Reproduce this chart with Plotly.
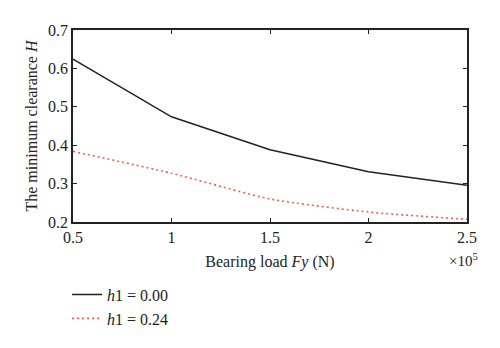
import plotly.graph_objects as go

load = [0.5, 1.0, 1.5, 2.0, 2.5]
h_000 = [0.624, 0.474, 0.388, 0.331, 0.296]
h_024 = [0.384, 0.327, 0.260, 0.226, 0.207]
names = ["<i>h</i>1 = 0.00", "<i>h</i>1 = 0.24"]

font = "Liberation Serif"
fig = go.Figure()
fig.add_trace(go.Scatter(x=load, y=h_000, mode="lines", name=names[0],
                         line=dict(color="#222222", width=1.5)))
fig.add_trace(go.Scatter(x=load, y=h_024, mode="lines", name=names[1],
                         line=dict(color="#ff5a40", width=1.6, dash="2px,3px", shape="spline", smoothing=0.6)))

axis_common = dict(showline=True, linecolor="#222", linewidth=1.5, mirror="ticks",
                   ticks="inside", ticklen=4, tickcolor="#222", showgrid=False, zeroline=False,
                   tickfont=dict(family=font, size=16, color="#222"))
fig.update_layout(
    width=500, height=348,
    margin=dict(l=73, r=33, t=30, b=120),
    plot_bgcolor="white", paper_bgcolor="white",
    font=dict(family=font, color="#222"),
    xaxis=dict(range=[0.5, 2.5], tickvals=[0.5, 1, 1.5, 2, 2.5], ticktext=["0.5", "1", "1.5", "2", "2.5"],
               title=dict(text="Bearing load <i>Fy</i> (N)", font=dict(family=font, size=16), standoff=11),
               **axis_common),
    yaxis=dict(range=[0.2, 0.7], tickvals=[0.2, 0.3, 0.4, 0.5, 0.6, 0.7],
               ticktext=["0.2", "0.3", "0.4", "0.5", "0.6", "0.7"],
               title=dict(text="The minimum clearance <i>H</i>", font=dict(family=font, size=16), standoff=6),
               **axis_common),
    legend=dict(x=-0.015, y=-0.29, xanchor="left", yanchor="top", bgcolor="rgba(0,0,0,0)",
                font=dict(family=font, size=16), tracegroupgap=0, itemwidth=30),
    showlegend=True,
)
fig.add_annotation(text="×10<sup>5</sup>", xref="paper", yref="paper", x=0.99, y=-0.14,
                   xanchor="center", yanchor="top", showarrow=False, font=dict(family=font, size=15))
fig.write_html("out.html")
